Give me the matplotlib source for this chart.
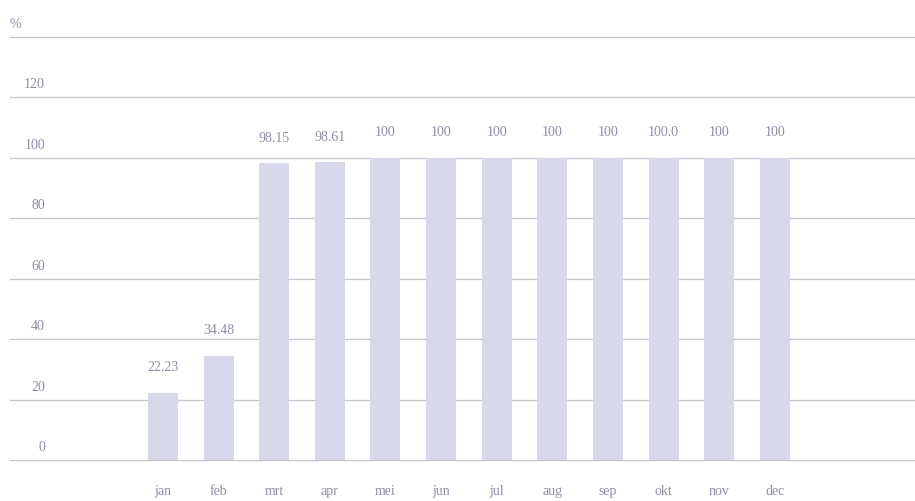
import matplotlib
matplotlib.use("Agg")
import matplotlib.pyplot as plt
import matplotlib.transforms as mtransforms

# maanden en percentages
months = ['jan', 'feb', 'mrt', 'apr', 'mei', 'jun', 'jul', 'aug', 'sep', 'okt', 'nov', 'dec']
values = [22.23, 34.48, 98.15, 98.61, 100, 100, 100, 100, 100, 100.0, 100, 100]
value_labels = ['22.23', '34.48', '98.15', '98.61', '100', '100', '100', '100', '100', '100.0', '100', '100']
y_ticks = [0, 20, 40, 60, 80, 100, 120]

bar_color = '#d8d8eb'
grid_color = '#c6c6ca'
text_color = '#8e8ea6'

plt.rcParams['font.family'] = ['Liberation Serif', 'DejaVu Serif']

fig = plt.figure(figsize=(9.15, 5.02), dpi=100)
ax = fig.add_axes([10 / 915, 1 - 461 / 502, 905 / 915, (461 - 38) / 502])

x = list(range(len(months)))
ax.bar(x, values, width=0.54, color=bar_color, zorder=2)

ax.set_xlim(-2.75, 13.52)
ax.set_ylim(0, 140)

# horizontale rasterlijnen
for t in y_ticks + [140]:
    ax.axhline(t, color=grid_color, lw=0.9, zorder=3 if t == 0 else 1, clip_on=False)

# y-labels boven de lijnen, rechts uitgelijnd
trans = mtransforms.blended_transform_factory(fig.transFigure, ax.transData)
offset = mtransforms.ScaledTranslation(0, 5 / 72, fig.dpi_scale_trans)
for t in y_ticks:
    ax.text(45 / 915, t, str(t), transform=trans + offset, ha='right', va='bottom',
            fontsize=10, color=text_color)
ax.text(10 / 915, 140, '%', transform=trans + offset, ha='left', va='bottom',
        fontsize=10, color=text_color)

# waarden boven de staven
for xi, v, lab in zip(x, values, value_labels):
    ax.annotate(lab, (xi, v), xytext=(0, 14), textcoords='offset points',
                ha='center', va='bottom', fontsize=10, color=text_color)

# maandlabels
for xi, m in zip(x, months):
    ax.annotate(m, (xi, 0), xytext=(0, -17), textcoords='offset points',
                ha='center', va='top', fontsize=10, color=text_color,
                annotation_clip=False)

ax.set_xticks([])
ax.set_yticks([])
for s in ax.spines.values():
    s.set_visible(False)

fig.savefig('out.png', dpi=100, facecolor='white')
